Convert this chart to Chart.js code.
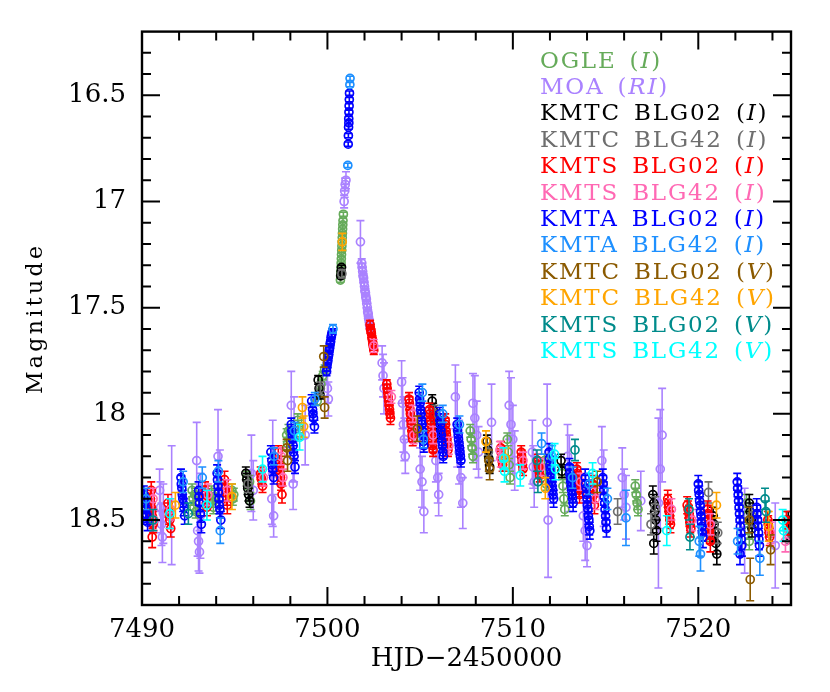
<!DOCTYPE html>
<html>
<head>
<meta charset="utf-8">
<title>Light curve</title>
<script src="https://cdn.jsdelivr.net/npm/chart.js@4.4.1/dist/chart.umd.min.js"></script>
<style>
  html, body { margin: 0; padding: 0; background: #fff; }
</style>
</head>
<body>
<canvas id="lc" width="830" height="692"></canvas>
<script>
// each point: [HJD-2450000, magnitude, error]
const ogle = [
  [7492.70,18.36,0.03],[7492.75,18.40,0.03],[7492.80,18.44,0.03],[7492.85,18.38,0.03],[7492.90,18.46,0.03],
  [7493.75,18.37,0.03],[7493.80,18.41,0.03],[7493.85,18.44,0.03],[7493.90,18.39,0.03],
  [7494.85,18.36,0.03],[7494.90,18.40,0.03],[7494.95,18.38,0.03],
  [7495.65,18.30,0.03],[7495.70,18.34,0.03],[7495.75,18.38,0.03],[7495.80,18.32,0.03],[7495.85,18.41,0.04],
  [7497.80,18.10,0.03],[7497.85,18.14,0.03],[7497.90,18.08,0.03],
  [7498.40,18.03,0.03],[7498.45,18.06,0.03],[7498.50,18.09,0.03],
  [7499.45,17.94,0.02],[7499.55,17.90,0.02],[7499.65,17.86,0.02],[7499.75,17.82,0.02],[7499.85,17.79,0.02],
  [7500.70,17.37,0.01],[7500.72,17.33,0.01],[7500.74,17.29,0.01],[7500.76,17.25,0.01],[7500.78,17.21,0.01],
  [7500.80,17.17,0.01],[7500.82,17.13,0.01],[7500.84,17.09,0.01],[7500.86,17.06,0.01],
  [7500.71,17.35,0.01],[7500.73,17.31,0.01],[7500.75,17.27,0.01],[7500.77,17.23,0.01],[7500.79,17.19,0.01],
  [7500.81,17.15,0.01],[7500.83,17.11,0.01],
  [7507.70,18.08,0.03],[7507.75,18.12,0.03],[7507.80,18.16,0.03],[7507.85,18.20,0.03],
  [7509.70,18.12,0.03],[7509.75,18.18,0.03],[7509.80,18.24,0.03],[7509.85,18.30,0.03],
  [7511.70,18.22,0.03],[7511.75,18.27,0.03],[7511.80,18.33,0.03],
  [7512.65,18.28,0.03],[7512.70,18.34,0.03],[7512.75,18.40,0.03],[7512.80,18.45,0.03],
  [7516.60,18.34,0.03],[7516.65,18.38,0.03],[7516.70,18.42,0.03],[7516.75,18.45,0.03],
  [7520.60,18.50,0.04],[7520.65,18.56,0.04],
  [7522.60,18.42,0.04],[7522.65,18.48,0.04],[7522.70,18.55,0.04],[7522.75,18.60,0.04]
];
const moa = [
  [7490.95,18.36,0.10],[7491.00,18.44,0.12],[7491.05,18.52,0.10],[7491.10,18.58,0.12],[7491.15,18.47,0.14],
  [7491.60,18.43,0.28],
  [7492.95,18.22,0.18],[7493.00,18.55,0.12],[7493.05,18.60,0.14],[7493.10,18.65,0.10],[7493.15,18.48,0.20],
  [7494.10,18.20,0.22],[7494.20,18.32,0.15],
  [7495.90,18.28,0.18],[7496.00,18.36,0.14],
  [7497.00,18.40,0.12],[7497.05,18.28,0.25],[7497.10,18.48,0.10],
  [7498.05,17.96,0.16],[7498.15,18.33,0.12],[7498.20,18.12,0.20],[7498.80,18.10,0.14],
  [7499.95,17.80,0.06],[7500.00,17.88,0.07],[7500.05,17.93,0.08],
  [7500.90,17.00,0.03],[7500.93,16.95,0.03],[7500.96,16.92,0.03],[7501.00,16.90,0.04],
  [7501.78,17.19,0.10],
  [7501.85,17.29,0.02],[7501.90,17.33,0.02],[7501.95,17.36,0.02],[7502.00,17.40,0.02],[7502.05,17.43,0.02],
  [7502.10,17.46,0.02],[7502.15,17.50,0.02],[7502.20,17.53,0.02],[7502.25,17.56,0.02],[7502.30,17.59,0.02],
  [7501.87,17.31,0.02],[7501.92,17.35,0.02],[7501.97,17.38,0.02],[7502.02,17.42,0.02],[7502.07,17.45,0.02],
  [7502.12,17.48,0.02],[7502.17,17.52,0.02],[7502.22,17.55,0.02],[7502.27,17.58,0.02],
  [7502.95,17.76,0.08],[7503.00,17.82,0.10],[7503.05,17.88,0.12],
  [7504.00,17.85,0.10],[7504.05,17.95,0.12],[7504.10,18.05,0.13],[7504.15,18.12,0.10],[7504.20,18.20,0.08],
  [7505.00,18.26,0.10],[7505.10,18.32,0.12],[7505.20,18.46,0.10],
  [7505.85,18.22,0.10],[7505.95,18.30,0.12],[7506.00,18.38,0.10],
  [7506.90,17.92,0.15],[7507.00,18.05,0.20],[7507.10,18.18,0.15],[7507.20,18.30,0.14],[7507.30,18.42,0.12],
  [7507.85,17.95,0.14],[7507.95,18.02,0.20],[7508.05,18.10,0.16],[7508.15,18.18,0.12],
  [7508.85,18.04,0.18],
  [7509.80,17.96,0.16],[7509.90,18.05,0.22],[7510.00,18.12,0.16],[7510.10,18.22,0.14],
  [7511.05,18.18,0.15],[7511.10,18.25,0.10],[7511.15,18.32,0.12],
  [7511.85,18.04,0.18],[7511.90,18.50,0.27],
  [7512.95,18.20,0.15],[7513.05,18.28,0.18],
  [7513.80,18.48,0.12],[7513.90,18.55,0.14],[7514.00,18.62,0.10],
  [7514.80,18.22,0.16],[7514.90,18.35,0.18],
  [7515.90,18.30,0.14],[7516.00,18.38,0.12],[7516.10,18.44,0.15],
  [7516.90,18.41,0.14],
  [7517.85,18.42,0.40],[7517.95,18.26,0.28],[7518.05,18.10,0.22],
  [7522.50,18.55,0.20],[7524.15,18.62,0.20]
];
const kmtc02 = [
  [7495.60,18.28,0.03],[7495.65,18.31,0.03],[7495.70,18.35,0.03],[7495.75,18.38,0.03],[7495.80,18.41,0.03],
  [7499.50,17.84,0.02],[7499.55,17.88,0.02],[7499.60,17.91,0.02],
  [7500.72,17.35,0.01],[7500.74,17.33,0.01],[7500.76,17.31,0.01],
  [7505.65,17.94,0.03],[7505.70,17.98,0.03],[7505.75,18.02,0.03],[7505.80,18.06,0.03],[7505.85,18.10,0.03],
  [7508.60,18.13,0.03],[7508.65,18.17,0.03],[7508.70,18.21,0.03],[7508.75,18.25,0.03],
  [7512.60,18.22,0.03],[7512.65,18.27,0.03],
  [7517.55,18.38,0.04],[7517.60,18.42,0.04],[7517.65,18.46,0.04],[7517.70,18.50,0.04],[7517.75,18.55,0.05],[7517.60,18.61,0.05],
  [7520.80,18.48,0.04],[7520.85,18.52,0.04],[7520.90,18.56,0.04],[7520.95,18.61,0.05],[7521.00,18.66,0.05],
  [7522.75,18.42,0.04],[7522.80,18.46,0.04],[7522.85,18.50,0.04],[7522.90,18.54,0.04],
  [7524.85,18.50,0.04],[7524.90,18.55,0.04]
];
const kmtc42 = [
  [7495.72,18.33,0.04],[7499.62,17.88,0.03],[7500.78,17.34,0.02],[7505.78,18.00,0.04],[7508.68,18.18,0.04],
  [7515.65,18.46,0.06],[7517.45,18.52,0.05],[7517.68,18.44,0.05],[7520.55,18.37,0.05],[7521.05,18.56,0.05],
  [7522.88,18.48,0.05],[7524.95,18.56,0.05]
];
const kmts02 = [
  [7490.45,18.40,0.04],[7490.50,18.44,0.04],[7490.55,18.48,0.04],[7490.60,18.52,0.04],[7490.55,18.58,0.05],[7490.50,18.36,0.04],
  [7490.52,18.46,0.04],[7490.57,18.50,0.04],[7490.47,18.42,0.04],
  [7491.40,18.42,0.04],[7491.45,18.46,0.04],[7491.50,18.50,0.04],[7491.55,18.54,0.04],[7491.47,18.48,0.04],
  [7493.40,18.36,0.04],[7493.45,18.40,0.04],[7493.50,18.44,0.04],[7493.42,18.38,0.04],
  [7494.45,18.31,0.04],[7494.50,18.35,0.04],[7494.55,18.39,0.04],[7494.60,18.43,0.04],[7494.52,18.37,0.04],
  [7496.40,18.28,0.03],[7496.45,18.31,0.03],[7496.50,18.34,0.03],[7496.42,18.30,0.03],
  [7497.35,18.18,0.03],[7497.40,18.23,0.03],[7497.45,18.28,0.03],[7497.50,18.33,0.03],[7497.55,18.38,0.04],
  [7497.42,18.25,0.03],[7497.47,18.30,0.03],
  [7502.30,17.58,0.02],[7502.35,17.61,0.02],[7502.40,17.64,0.02],[7502.45,17.67,0.02],[7502.50,17.70,0.02],
  [7502.32,17.60,0.02],[7502.37,17.62,0.02],[7502.42,17.65,0.02],[7502.47,17.68,0.02],
  [7503.20,17.86,0.02],[7503.25,17.90,0.02],[7503.30,17.94,0.02],[7503.35,17.98,0.02],[7503.40,18.02,0.03],
  [7503.22,17.88,0.02],[7503.27,17.92,0.02],[7503.32,17.96,0.02],[7503.37,18.00,0.02],
  [7504.40,17.93,0.03],[7504.45,17.98,0.03],[7504.50,18.03,0.03],[7504.55,18.08,0.03],[7504.60,18.12,0.03],
  [7504.42,17.95,0.03],[7504.47,18.00,0.03],[7504.52,18.05,0.03],[7504.57,18.10,0.03],
  [7505.50,17.98,0.03],[7505.55,18.03,0.03],[7505.60,18.08,0.03],[7505.65,18.13,0.03],[7505.70,18.17,0.03],
  [7505.52,18.00,0.03],[7505.57,18.05,0.03],[7505.62,18.10,0.03],[7505.67,18.15,0.03],
  [7506.35,18.03,0.03],[7506.40,18.08,0.03],[7506.45,18.12,0.03],[7506.50,18.17,0.03],
  [7506.37,18.05,0.03],[7506.42,18.10,0.03],[7506.47,18.14,0.03],
  [7509.35,18.16,0.03],[7509.40,18.20,0.03],[7509.45,18.24,0.03],[7509.37,18.18,0.03],[7509.42,18.22,0.03],
  [7510.45,18.18,0.03],[7510.50,18.22,0.03],[7510.55,18.26,0.03],[7510.47,18.20,0.03],[7510.52,18.24,0.03],
  [7511.35,18.22,0.03],[7511.40,18.25,0.03],[7511.45,18.29,0.03],[7511.37,18.24,0.03],[7511.42,18.27,0.03],
  [7513.45,18.26,0.03],[7513.50,18.30,0.03],[7513.55,18.34,0.03],[7513.60,18.38,0.04],
  [7513.47,18.28,0.03],[7513.52,18.32,0.03],[7513.57,18.36,0.03],
  [7514.30,18.33,0.04],[7514.35,18.38,0.04],[7514.40,18.43,0.04],[7514.32,18.36,0.04],
  [7518.35,18.40,0.04],[7518.40,18.44,0.04],[7518.45,18.48,0.04],[7518.50,18.52,0.04],
  [7518.37,18.42,0.04],[7518.42,18.46,0.04],[7518.47,18.50,0.04],
  [7519.40,18.43,0.04],[7519.50,18.47,0.04],[7519.55,18.51,0.04],[7519.60,18.54,0.04],
  [7519.45,18.45,0.04],[7519.52,18.49,0.04],[7519.57,18.52,0.04],
  [7520.50,18.45,0.04],[7520.55,18.50,0.04],[7520.60,18.55,0.04],[7520.65,18.60,0.05],
  [7520.52,18.47,0.04],[7520.57,18.52,0.04],[7520.62,18.57,0.04],
  [7523.75,18.50,0.04],[7523.80,18.54,0.04],[7523.85,18.58,0.04],[7523.77,18.52,0.04],[7523.82,18.56,0.04],
  [7524.75,18.50,0.04],[7524.80,18.53,0.04]
];
const kmts42 = [
  [7490.60,18.40,0.05],[7490.65,18.50,0.05],[7491.55,18.45,0.05],[7493.55,18.38,0.05],[7494.60,18.36,0.05],
  [7496.55,18.30,0.04],[7497.50,18.20,0.04],[7497.60,18.30,0.04],[7502.50,17.68,0.03],[7503.45,17.92,0.03],
  [7504.60,18.00,0.04],[7504.65,18.10,0.04],[7505.70,18.10,0.04],[7506.55,18.15,0.04],[7509.30,18.17,0.04],
  [7509.35,18.21,0.04],[7510.55,18.22,0.04],[7511.50,18.25,0.04],[7513.65,18.32,0.04],[7514.45,18.40,0.05],
  [7518.55,18.45,0.05],[7519.65,18.50,0.05],[7520.65,18.52,0.05],[7523.90,18.56,0.05],[7524.70,18.60,0.05]
];
const kmta02 = [
  [7490.10,18.38,0.04],[7490.15,18.42,0.04],[7490.20,18.45,0.04],[7490.25,18.48,0.04],[7490.30,18.51,0.04],
  [7490.12,18.40,0.04],[7490.22,18.47,0.04],
  [7492.10,18.30,0.04],[7492.15,18.35,0.04],[7492.20,18.40,0.04],[7492.25,18.44,0.04],[7492.30,18.48,0.04],
  [7492.12,18.33,0.04],[7492.17,18.38,0.04],[7492.22,18.42,0.04],
  [7493.05,18.36,0.04],[7493.10,18.42,0.04],[7493.15,18.47,0.04],[7493.20,18.52,0.04],[7493.07,18.39,0.04],
  [7494.05,18.28,0.04],[7494.10,18.34,0.04],[7494.15,18.40,0.04],[7494.20,18.45,0.04],[7494.25,18.50,0.04],
  [7494.07,18.31,0.04],[7494.12,18.37,0.04],[7494.17,18.43,0.04],
  [7496.95,18.18,0.03],[7497.00,18.22,0.03],[7497.05,18.26,0.03],[7497.10,18.30,0.03],[7497.02,18.24,0.03],
  [7498.05,18.05,0.03],[7498.10,18.10,0.03],[7498.15,18.15,0.03],[7498.20,18.20,0.03],[7498.25,18.25,0.03],
  [7498.07,18.08,0.03],[7498.12,18.12,0.03],[7498.17,18.18,0.03],
  [7499.15,17.94,0.03],[7499.20,17.98,0.03],[7499.25,18.02,0.03],[7499.30,18.06,0.03],[7499.22,18.00,0.03],
  [7499.95,17.80,0.02],[7500.00,17.76,0.02],[7500.05,17.73,0.02],[7500.10,17.70,0.02],[7500.15,17.67,0.02],
  [7500.20,17.64,0.02],[7500.25,17.62,0.02],
  [7499.97,17.78,0.02],[7500.02,17.75,0.02],[7500.07,17.72,0.02],[7500.12,17.69,0.02],[7500.17,17.66,0.02],
  [7500.22,17.63,0.02],
  [7501.12,16.73,0.01],[7501.14,16.65,0.01],[7501.15,16.61,0.01],[7501.16,16.58,0.01],[7501.17,16.55,0.01],
  [7501.18,16.52,0.01],[7501.19,16.49,0.01],[7501.13,16.69,0.01],[7501.155,16.63,0.01],
  [7504.95,17.90,0.03],[7505.00,17.95,0.03],[7505.05,18.00,0.03],[7505.10,18.05,0.03],[7505.15,18.10,0.03],[7505.20,18.15,0.03],
  [7504.97,17.93,0.03],[7505.02,17.98,0.03],[7505.07,18.03,0.03],[7505.12,18.08,0.03],[7505.17,18.13,0.03],
  [7506.05,18.00,0.03],[7506.10,18.05,0.03],[7506.15,18.10,0.03],[7506.20,18.15,0.03],[7506.25,18.20,0.03],
  [7506.07,18.03,0.03],[7506.12,18.08,0.03],[7506.17,18.13,0.03],[7506.22,18.18,0.03],
  [7507.00,18.05,0.03],[7507.05,18.10,0.03],[7507.10,18.14,0.03],[7507.15,18.18,0.03],[7507.20,18.22,0.03],
  [7507.02,18.08,0.03],[7507.07,18.12,0.03],[7507.12,18.16,0.03],[7507.17,18.20,0.03],
  [7511.95,18.18,0.04],[7512.00,18.24,0.04],[7512.05,18.28,0.04],[7512.10,18.32,0.04],[7512.15,18.36,0.04],[7512.20,18.40,0.04],
  [7511.97,18.21,0.04],[7512.02,18.26,0.04],[7512.07,18.30,0.04],[7512.12,18.34,0.04],[7512.17,18.38,0.04],
  [7513.05,18.25,0.04],[7513.10,18.30,0.04],[7513.15,18.34,0.04],[7513.20,18.38,0.04],[7513.25,18.42,0.04],
  [7513.07,18.28,0.04],[7513.12,18.32,0.04],[7513.17,18.36,0.04],[7513.22,18.40,0.04],
  [7513.90,18.30,0.04],[7513.95,18.35,0.04],[7514.00,18.40,0.04],[7514.05,18.45,0.04],[7514.10,18.50,0.04],[7514.15,18.55,0.04],
  [7513.92,18.33,0.04],[7513.97,18.38,0.04],[7514.02,18.43,0.04],[7514.07,18.48,0.04],[7514.12,18.53,0.04],
  [7514.85,18.30,0.04],[7514.90,18.36,0.04],[7514.95,18.42,0.04],[7515.00,18.48,0.04],[7515.05,18.54,0.04],
  [7514.87,18.33,0.04],[7514.92,18.39,0.04],[7514.97,18.45,0.04],[7515.02,18.51,0.04],
  [7520.00,18.33,0.04],[7520.05,18.38,0.04],[7520.10,18.43,0.04],[7520.15,18.48,0.04],[7520.20,18.53,0.04],[7520.25,18.58,0.05],
  [7520.02,18.36,0.04],[7520.07,18.41,0.04],[7520.12,18.46,0.04],[7520.17,18.51,0.04],[7520.22,18.56,0.04],
  [7522.10,18.32,0.04],[7522.15,18.38,0.04],[7522.20,18.44,0.04],[7522.25,18.50,0.04],[7522.30,18.56,0.05],
  [7522.35,18.62,0.05],[7522.25,18.66,0.05],
  [7522.12,18.35,0.04],[7522.17,18.41,0.04],[7522.22,18.47,0.04],[7522.27,18.53,0.04],[7522.32,18.59,0.05],
  [7523.15,18.44,0.04],[7523.20,18.50,0.04],[7523.25,18.56,0.05],[7523.30,18.62,0.05],
  [7523.17,18.47,0.04],[7523.22,18.53,0.04],[7523.27,18.59,0.05]
];
const kmta42 = [
  [7490.22,18.40,0.05],[7492.22,18.32,0.05],[7493.25,18.30,0.05],[7494.12,18.27,0.05],[7494.22,18.55,0.06],
  [7497.12,18.20,0.04],[7498.22,18.08,0.04],[7499.32,17.93,0.03],[7500.30,17.60,0.02],[7501.10,16.83,0.01],
  [7501.21,16.45,0.01],[7501.22,16.42,0.01],[7505.12,17.90,0.04],[7505.18,18.12,0.04],[7506.22,18.00,0.04],
  [7507.12,18.05,0.04],[7511.55,18.14,0.05],[7512.12,18.20,0.05],[7513.22,18.30,0.05],[7514.12,18.33,0.05],
  [7515.10,18.40,0.05],[7516.10,18.49,0.13],[7520.05,18.60,0.07],[7520.12,18.66,0.08],[7522.12,18.60,0.06],
  [7523.32,18.68,0.08]
];
const kmtc02V = [
  [7497.80,18.16,0.04],[7497.85,18.22,0.05],[7499.80,17.73,0.05],[7499.85,17.97,0.05],[7504.85,18.07,0.06],
  [7508.70,18.22,0.05],[7508.75,18.26,0.05],[7514.55,18.32,0.05],[7522.75,18.50,0.06],[7522.80,18.78,0.10],
  [7523.90,18.64,0.07]
];
const kmtc42V = [
  [7491.80,18.43,0.06],[7494.85,18.39,0.06],[7498.65,17.97,0.05],[7498.72,18.06,0.05],[7500.80,17.19,0.04],
  [7508.55,18.13,0.05],[7509.60,18.21,0.05],[7511.75,18.35,0.05],[7520.98,18.43,0.06],[7523.80,18.53,0.07]
];
const kmts02V = [
  [7490.60,18.50,0.05],[7492.50,18.47,0.05],[7511.30,18.22,0.05],[7511.35,18.32,0.05],[7513.35,18.17,0.05],
  [7519.50,18.45,0.05],[7519.55,18.58,0.06],[7523.60,18.40,0.05],[7523.65,18.46,0.05]
];
const kmts42V = [
  [7491.50,18.47,0.07],[7493.50,18.43,0.07],[7496.50,18.26,0.06],[7498.50,18.11,0.06],[7509.50,18.21,0.05],
  [7509.55,18.27,0.05],[7510.40,18.29,0.05],[7512.25,18.19,0.05],[7512.30,18.26,0.05],[7514.30,18.28,0.05],
  [7518.30,18.55,0.07],[7524.55,18.50,0.05],[7524.60,18.55,0.05]
];

const seriesNames = ['OGLE', 'MOA', 'KMTC BLG02', 'KMTC BLG42', 'KMTS BLG02', 'KMTS BLG42',
  'KMTA BLG02', 'KMTA BLG42', 'KMTC BLG02', 'KMTC BLG42', 'KMTS BLG02', 'KMTS BLG42'];
const seriesBands = ['I', 'RI', 'I', 'I', 'I', 'I', 'I', 'I', 'V', 'V', 'V', 'V'];
const seriesColors = ['#66ab5a', '#aa82ff', '#000000', '#6e6e6e', '#ff0000', '#ff69b4',
  '#0000ff', '#1e90ff', '#8b5a00', '#ffa500', '#008b8b', '#00ffff'];
const seriesData = [ogle, moa, kmtc02, kmtc42, kmts02, kmts42, kmta02, kmta42, kmtc02V, kmtc42V, kmts02V, kmts42V];

const xMajorTicks = [7490, 7500, 7510, 7520];
const xMinorTicks = [7492, 7494, 7496, 7498, 7502, 7504, 7506, 7508, 7512, 7514, 7516, 7518, 7522, 7524];
const yMajorTicks = [16.5, 17, 17.5, 18, 18.5];
const yMinorTicks = [16.3, 16.4, 16.6, 16.7, 16.8, 16.9, 17.1, 17.2, 17.3, 17.4, 17.6, 17.7, 17.8, 17.9,
  18.1, 18.2, 18.3, 18.4, 18.6, 18.7, 18.8];
const yTitle = 'Magnitude';

Chart.defaults.font.family = 'DejaVu Serif';
Chart.defaults.color = '#000';

// error bars under each dataset's circles
const errorBars = {
  id: 'errorBars',
  beforeDatasetDraw(chart, args) {
    const ds = chart.data.datasets[args.index];
    const {ctx, chartArea: a, scales: {x, y}} = chart;
    ctx.save();
    ctx.beginPath();
    ctx.rect(a.left, a.top, a.width, a.height);
    ctx.clip();
    ctx.strokeStyle = ds.borderColor;
    ctx.lineWidth = 1.6;
    ctx.beginPath();
    ds.data.forEach(p => {
      const px = x.getPixelForValue(p.x);
      const y1 = y.getPixelForValue(p.y - p.e);
      const y2 = y.getPixelForValue(p.y + p.e);
      ctx.moveTo(px, y1); ctx.lineTo(px, y2);
      ctx.moveTo(px - 4, y1); ctx.lineTo(px + 4, y1);
      ctx.moveTo(px - 4, y2); ctx.lineTo(px + 4, y2);
    });
    ctx.stroke();
    ctx.restore();
  }
};

// box around the plot with inward ticks on all four sides
const frameTicks = {
  id: 'frameTicks',
  afterDraw(chart) {
    const {ctx, chartArea: a, scales: {x, y}} = chart;
    ctx.save();
    ctx.strokeStyle = '#000';
    ctx.lineWidth = 2;
    ctx.beginPath();
    const xt = (v, len) => {
      const p = x.getPixelForValue(v);
      ctx.moveTo(p, a.bottom); ctx.lineTo(p, a.bottom - len);
      ctx.moveTo(p, a.top); ctx.lineTo(p, a.top + len);
    };
    const yt = (v, len) => {
      const p = y.getPixelForValue(v);
      ctx.moveTo(a.left, p); ctx.lineTo(a.left + len, p);
      ctx.moveTo(a.right, p); ctx.lineTo(a.right - len, p);
    };
    xMajorTicks.forEach(v => xt(v, 18));
    xMinorTicks.forEach(v => xt(v, 9));
    yMajorTicks.forEach(v => yt(v, 18));
    yMinorTicks.forEach(v => yt(v, 9));
    ctx.stroke();
    ctx.lineWidth = 2.4;
    ctx.strokeRect(a.left, a.top, a.width, a.height);
    ctx.restore();
  }
};

// coloured dataset names (band in italics) and the spaced-out y title
const legendText = {
  id: 'legendText',
  afterDraw(chart) {
    const {ctx, chartArea: a} = chart;
    ctx.save();
    ctx.textBaseline = 'middle';
    ctx.textAlign = 'left';
    ctx.letterSpacing = '1.8px';
    ctx.wordSpacing = '4px';
    seriesNames.forEach((name, i) => {
      let xp = a.left + 398;
      const yp = a.top + 30 + i * 26.4;
      ctx.fillStyle = seriesColors[i];
      ctx.font = '23px "DejaVu Serif"';
      const head = name + ' (';
      ctx.fillText(head, xp, yp);
      xp += ctx.measureText(head).width;
      ctx.font = 'italic 23px "DejaVu Serif"';
      ctx.fillText(seriesBands[i], xp, yp);
      xp += ctx.measureText(seriesBands[i]).width;
      ctx.font = '23px "DejaVu Serif"';
      ctx.fillText(')', xp, yp);
    });
    ctx.restore();

    ctx.save();
    ctx.fillStyle = '#000';
    ctx.font = '22px "DejaVu Serif"';
    ctx.letterSpacing = '3.4px';
    ctx.textAlign = 'center';
    ctx.textBaseline = 'middle';
    ctx.translate(36, (a.top + a.bottom) / 2);
    ctx.rotate(-Math.PI / 2);
    ctx.fillText(yTitle, 0, 0);
    ctx.restore();
  }
};

const datasets = seriesData.map((arr, i) => ({
  label: seriesNames[i] + ' (' + seriesBands[i] + ')',
  data: arr.map(p => ({x: p[0], y: p[1], e: p[2]})),
  borderColor: seriesColors[i],
  backgroundColor: 'rgba(0,0,0,0)',
  pointRadius: 4,
  pointHoverRadius: 4,
  pointBorderWidth: 1.7,
  showLine: false,
  order: i === 1 ? 30 : 20 - i
}));

new Chart(document.getElementById('lc'), {
  type: 'scatter',
  data: {datasets},
  plugins: [errorBars, frameTicks, legendText],
  options: {
    responsive: false,
    animation: false,
    layout: {padding: {left: 0, right: 39, top: 26, bottom: 0}},
    plugins: {legend: {display: false}, tooltip: {enabled: false}},
    scales: {
      x: {
        type: 'linear',
        min: 7490,
        max: 7525,
        afterBuildTicks: s => { s.ticks = xMajorTicks.map(v => ({value: v})); },
        afterFit: s => { s.height = 87; },
        grid: {display: false, drawTicks: false},
        border: {display: false},
        ticks: {autoSkip: false, maxRotation: 0, padding: 10, font: {size: 26}, callback: v => String(v)},
        title: {display: true, text: 'HJD\u22122450000', font: {size: 26}, padding: {top: 0, bottom: 17}}
      },
      y: {
        type: 'linear',
        reverse: true,
        min: 16.2,
        max: 18.9,
        afterBuildTicks: s => { s.ticks = yMajorTicks.map(v => ({value: v})); },
        afterFit: s => { s.width = 142; },
        grid: {display: false, drawTicks: false},
        border: {display: false},
        ticks: {autoSkip: false, padding: 16, font: {size: 26}, callback: v => String(v)},
        title: {display: false}
      }
    }
  }
});
</script>
</body>
</html>
